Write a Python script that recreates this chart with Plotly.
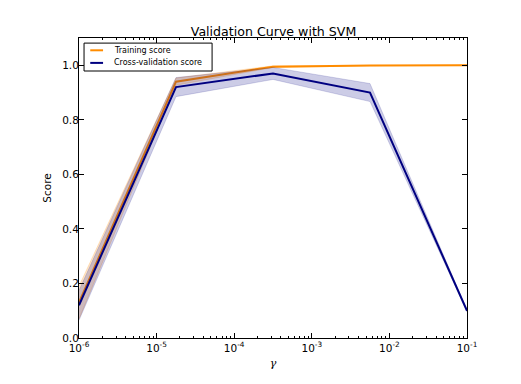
import plotly.graph_objects as go

# gamma values (logspace -6 .. -1, 5 points)
param_range = [1e-6, 1.778e-5, 3.162e-4, 5.623e-3, 1e-1]
train_mean = [0.13, 0.94, 0.995, 0.999, 1.0]
train_std = [0.06, 0.013, 0.003, 0.001, 0.0]
test_mean = [0.12, 0.92, 0.97, 0.90, 0.10]
test_std = [0.055, 0.035, 0.022, 0.033, 0.003]

series_names = ["Training score", "Cross-validation score"]
series_colors = ["darkorange", "navy"]

x_tickvals = [1e-6, 1e-5, 1e-4, 1e-3, 1e-2, 1e-1]
x_ticktext = ["10<sup>-6</sup>", "10<sup>-5</sup>", "10<sup>-4</sup>",
              "10<sup>-3</sup>", "10<sup>-2</sup>", "10<sup>-1</sup>"]
x_minor = [m * 10 ** e for e in range(-6, -1) for m in range(2, 10)]
y_tickvals = [0.0, 0.2, 0.4, 0.6, 0.8, 1.0]

FONT = "DejaVu Sans"

def band(mean, std):
    up = [m + s for m, s in zip(mean, std)]
    lo = [m - s for m, s in zip(mean, std)]
    return list(param_range) + list(param_range[::-1]), up + lo[::-1]

fig = go.Figure()

bx, by = band(train_mean, train_std)
fig.add_trace(go.Scatter(x=bx, y=by, fill="toself", mode="lines",
                         line=dict(width=0.5, color="rgba(255,140,0,0.45)"),
                         fillcolor="rgba(255,140,0,0.2)", showlegend=False,
                         hoverinfo="skip"))
fig.add_trace(go.Scatter(x=param_range, y=train_mean, mode="lines",
                         name=series_names[0],
                         line=dict(color=series_colors[0], width=2)))
bx, by = band(test_mean, test_std)
fig.add_trace(go.Scatter(x=bx, y=by, fill="toself", mode="lines",
                         line=dict(width=0.5, color="rgba(0,0,128,0.3)"),
                         fillcolor="rgba(0,0,128,0.2)", showlegend=False,
                         hoverinfo="skip"))
fig.add_trace(go.Scatter(x=param_range, y=test_mean, mode="lines",
                         name=series_names[1],
                         line=dict(color=series_colors[1], width=2)))

# matplotlib-style legend box (paper coordinates = plot area)
fig.add_shape(type="rect", xref="paper", yref="paper",
              x0=0.013, x1=0.343, y0=0.89, y1=0.983,
              line=dict(color="black", width=1), fillcolor="white", layer="above")
for i, (nm, col) in enumerate(zip(series_names, series_colors)):
    yy = [0.959, 0.917][i]
    fig.add_shape(type="line", xref="paper", yref="paper",
                  x0=0.029, x1=0.062, y0=yy, y1=yy,
                  line=dict(color=col, width=2), layer="above")
    fig.add_annotation(xref="paper", yref="paper", x=0.085, y=yy,
                       text=nm, showarrow=False, xanchor="left", yanchor="middle",
                       font=dict(size=8, family=FONT, color="black"))

fig.update_layout(
    width=521, height=384,
    margin=dict(l=79, r=54, t=38, b=46),
    paper_bgcolor="white", plot_bgcolor="white",
    font=dict(family=FONT, size=10.5, color="black"),
    title=dict(text="Validation Curve with SVM", x=0.525, xanchor="center",
               yref="container", y=1 - 31.5 / 384, yanchor="middle",
               font=dict(size=12.6, family=FONT)),
    showlegend=False,
)
fig.update_xaxes(
    type="log", range=[-6, -1], tickvals=x_tickvals, ticktext=x_ticktext,
    ticks="inside", ticklen=5, tickcolor="black", showgrid=False,
    showline=True, linecolor="black", linewidth=1, mirror="allticks",
    minor=dict(ticks="inside", ticklen=2, tickcolor="black", showgrid=False,
               tickmode="array", tickvals=x_minor),
    title=dict(text="<i>γ</i>", font=dict(family="DejaVu Serif", size=11), standoff=6),
    zeroline=False,
)
fig.update_yaxes(
    range=[0, 1.1], tickvals=y_tickvals, tickformat=".1f",
    ticks="inside", ticklen=5, tickcolor="black", showgrid=False,
    showline=True, linecolor="black", linewidth=1, mirror="allticks",
    ticklabelstandoff=-3,
    title=dict(text="Score", font=dict(size=10.5), standoff=8),
    zeroline=False,
)

fig.write_html("out.html", config={"displayModeBar": False},
               post_script="document.body.style.margin='0';document.body.style.padding='0';")
